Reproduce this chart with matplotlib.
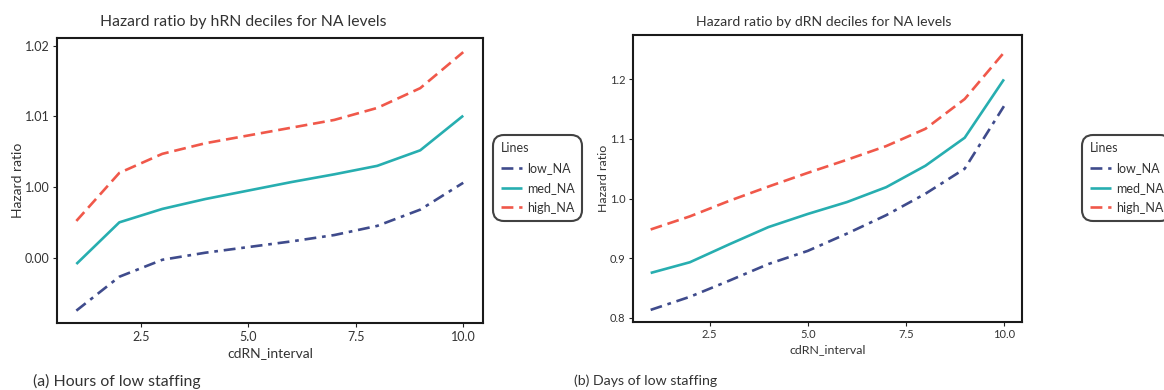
import matplotlib
matplotlib.use("Agg")
import matplotlib.pyplot as plt

plt.rcParams['font.family'] = ['Lato', 'DejaVu Sans']

x_vals = [1, 2, 3, 4, 5, 6, 7, 8, 9, 10]

# Panel (a): hours of low staffing
a_low = [0.9825, 0.9873, 0.9897, 0.9907, 0.9915, 0.9923, 0.9932, 0.9945, 0.9968, 1.0006]
a_med = [0.9891, 0.9950, 0.9969, 0.9983, 0.9995, 1.0007, 1.0018, 1.0030, 1.0052, 1.0101]
a_high = [0.9952, 1.0020, 1.0047, 1.0062, 1.0073, 1.0084, 1.0095, 1.0112, 1.0140, 1.0191]
a_yticks = [0.99, 1.00, 1.01, 1.02]
a_yticklabels = ["0.00", "1.00", "1.01", "1.02"]

# Panel (b): days of low staffing
b_low = [0.813, 0.835, 0.862, 0.890, 0.912, 0.941, 0.972, 1.008, 1.050, 1.155]
b_med = [0.875, 0.893, 0.923, 0.952, 0.974, 0.994, 1.019, 1.055, 1.102, 1.200]
b_high = [0.948, 0.970, 0.996, 1.020, 1.043, 1.065, 1.088, 1.117, 1.167, 1.245]
b_yticks = [0.8, 0.9, 1.0, 1.1, 1.2]
b_yticklabels = ["0.8", "0.9", "1.0", "1.1", "1.2"]

xticks = [2.5, 5.0, 7.5, 10.0]
xticklabels = ["2.5", "5.0", "7.5", "10.0"]
series_names = ["low_NA", "med_NA", "high_NA"]
titles = ["Hazard ratio by hRN deciles for NA levels", "Hazard ratio by dRN deciles for NA levels"]
captions = ["(a) Hours of low staffing", "(b) Days of low staffing"]

colors = ["#3F4B8C", "#27AEB0", "#F0584A"]
dashes = [(4.5, 2.2, 1.4, 2.2), None, (4.5, 2.2)]
TXT = "#333333"

fig = plt.figure(figsize=(11.64, 3.90), dpi=100)
W, H = 1164, 390

def fr(x0, y0, x1, y1):
    return [x0 / W, 1 - y1 / H, (x1 - x0) / W, (y1 - y0) / H]

ax1 = fig.add_axes(fr(57, 38, 483, 323))
ax2 = fig.add_axes(fr(633, 35, 1022, 321.5))

# (ax, data, yticks, labels, ylim, title x, legend x, scale)
panels = [
    (ax1, [a_low, a_med, a_high], a_yticks, a_yticklabels, (0.98075, 1.0211), 243, 493, 1.0),
    (ax2, [b_low, b_med, b_high], b_yticks, b_yticklabels, (0.7935, 1.2745), 824, 1082, 0.89),
]

for i, (ax, data, yt, ytl, ylim, tx, legx, sc) in enumerate(panels):
    handles = []
    for ys, name, c, d in zip(data, series_names, colors, dashes):
        ln, = ax.plot(x_vals, ys, color=c, lw=1.9, label=name, solid_capstyle='butt')
        if d is not None:
            ln.set_dashes(d)
        handles.append(ln)
    ax.set_xlim(0.55, 10.46)
    ax.set_ylim(*ylim)
    ax.set_xticks(xticks)
    ax.set_xticklabels(xticklabels)
    ax.set_yticks(yt)
    ax.set_yticklabels(ytl)
    ax.tick_params(axis='both', labelsize=9 * sc, colors=TXT, length=3, width=0.8, pad=2.5)
    ax.tick_params(axis='both', color='#222222')
    for s in ax.spines.values():
        s.set_linewidth(1.5)
        s.set_color('#1a1a1a')
    ax.set_xlabel("cdRN_interval", fontsize=10 * sc, color=TXT, labelpad=3)
    ax.set_ylabel("Hazard ratio", fontsize=10 * sc, color=TXT, labelpad=0.5)
    fig.text(tx / W, 1 - 22 / H, titles[i], ha='center', va='center', fontsize=11.3 * sc, color=TXT)
    leg = fig.legend(handles=handles, title="Lines", loc='upper left',
                     bbox_to_anchor=(legx / W, 1 - 135 / H),
                     fontsize=9, title_fontsize=9, frameon=True, fancybox=True,
                     handlelength=1.75, handletextpad=0.35, borderpad=0.6,
                     labelspacing=0.62, borderaxespad=0, alignment='left')
    fr_ = leg.get_frame()
    fr_.set_edgecolor('#111111')
    fr_.set_linewidth(1.5)
    fr_.set_boxstyle('round,pad=0,rounding_size=0.9')
    leg.get_title().set_color(TXT)
    for t in leg.get_texts():
        t.set_color(TXT)

fig.text(33 / W, 1 - 381 / H, captions[0], ha='left', va='center', fontsize=11.4, color=TXT)
fig.text(574 / W, 1 - 381 / H, captions[1], ha='left', va='center', fontsize=10.2, color=TXT)

fig.savefig("out.png", dpi=100)
